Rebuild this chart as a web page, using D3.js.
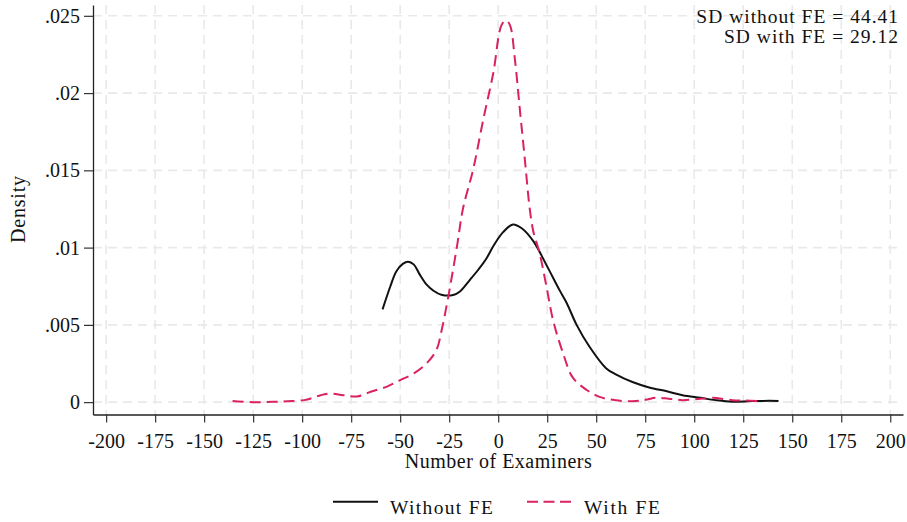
<!DOCTYPE html>
<html>
<head>
<meta charset="utf-8">
<script src="https://cdn.jsdelivr.net/npm/d3@7"></script>
<style>
  html, body { margin: 0; padding: 0; background: #fff; }
  svg { display: block; }
  text { font-family: "Liberation Serif", "Times New Roman", serif; fill: #111; }
</style>
</head>
<body>
<svg id="chart" width="907" height="522"></svg>
<script>
// Kernel density of examiner counts, without and with fixed effects
const withoutX = [-59, -55, -52, -48.5, -46, -43, -40, -36.5, -33, -29, -23, -19.5, -14.5, -10, -6, -2, 2.5, 7.5, 12, 18, 24.5, 31.5, 35, 40, 46.5, 55, 60, 68.5, 77, 86, 94, 103, 111, 119.5, 128, 135, 143];
const withoutY = [0.0060, 0.0075, 0.00846, 0.00896, 0.00909, 0.0089, 0.00825, 0.0076, 0.00721, 0.00695, 0.00693, 0.00716, 0.0079, 0.0086, 0.0093, 0.0102, 0.0110, 0.0115, 0.01125, 0.0104, 0.0089, 0.0072, 0.0064, 0.0050, 0.0036, 0.0022, 0.0018, 0.0013, 0.00095, 0.0007, 0.00045, 0.00028, 0.00013, 0.00003, 0.00006, 0.00008, 0.00008];

const withX = [-135.5, -125, -115, -107.5, -99, -94, -90.5, -85.5, -79, -72, -65, -57, -50, -43, -36.5, -31.5, -28.8, -25.5, -21, -18, -12.7, -7.6, -2.5, 1.7, 4, 6, 8.5, 11, 13.6, 16.1, 18, 21, 24.6, 28, 33, 38, 45, 51.7, 60, 68.6, 75, 80.5, 87, 94, 102, 109.3, 119.5, 126, 132.5];
const withY = [0.00008, 0.00000, 0.00002, 0.00006, 0.00013, 0.0003, 0.00045, 0.00056, 0.00045, 0.00037, 0.00067, 0.00099, 0.00143, 0.00186, 0.00251, 0.00338, 0.00468, 0.0068, 0.0101, 0.0125, 0.0151, 0.0183, 0.0213, 0.0244, 0.0247, 0.0244, 0.0222, 0.0190, 0.0157, 0.0125, 0.0110, 0.0097, 0.0075, 0.0053, 0.0032, 0.0016, 0.0008, 0.00034, 0.00012, 0.00006, 0.00015, 0.00028, 0.00022, 0.00013, 0.0002, 0.00028, 0.00013, 0.0001, 0.00008];

const xTicks = [-200, -175, -150, -125, -100, -75, -50, -25, 0, 25, 50, 75, 100, 125, 150, 175, 200];
const yTicks = [0, 0.005, 0.01, 0.015, 0.02, 0.025];
const yTickLabels = ["0", ".005", ".01", ".015", ".02", ".025"];

const seriesNames = ["Without FE", "With FE"];
const annotations = ["SD without FE = 44.41", "SD with FE = 29.12"];

const svg = d3.select("#chart");
const pink = "#d9225f";

const x = d3.scaleLinear().domain([-206.7, 206.5]).range([93, 903]);
const y = d3.scaleLinear().domain([-0.0008, 0.0257]).range([414.5, 5]);

// grid
const grid = svg.append("g").attr("stroke", "#e9e9e9").attr("stroke-width", 1.6)
  .attr("stroke-dasharray", "9,6");
grid.selectAll("line.v").data(xTicks).join("line").attr("class", "v")
  .attr("x1", d => x(d)).attr("x2", d => x(d)).attr("y1", y.range()[1]).attr("y2", y.range()[0]);
grid.selectAll("line.h").data(yTicks).join("line").attr("class", "h")
  .attr("y1", d => y(d)).attr("y2", d => y(d)).attr("x1", x.range()[0]).attr("x2", x.range()[1]);

// axes
const xAxis = d3.axisBottom(x).tickValues(xTicks).tickSize(8).tickSizeOuter(0).tickPadding(6)
  .tickFormat(d3.format("d"));
const gx = svg.append("g").attr("transform", `translate(0,${y.range()[0]})`).call(xAxis);
gx.select(".domain").attr("stroke", "#222").attr("stroke-width", 1.3);
gx.selectAll(".tick line").attr("stroke", "#333").attr("stroke-width", 1.2);
gx.selectAll(".tick text").attr("font-size", 20).attr("font-family", "Liberation Serif")
  .attr("fill", "#111").attr("dy", null).attr("y", 33)
  .text(d => d < 0 ? "-" + Math.abs(d) : String(d));

const yAxis = d3.axisLeft(y).tickValues(yTicks).tickSize(9).tickSizeOuter(0).tickPadding(4)
  .tickFormat((d, i) => yTickLabels[i]);
const gy = svg.append("g").attr("transform", `translate(${x.range()[0]},0)`).call(yAxis);
gy.select(".domain").attr("stroke", "#222").attr("stroke-width", 1.3);
gy.selectAll(".tick line").attr("stroke", "#333").attr("stroke-width", 1.2);
gy.selectAll(".tick text").attr("font-size", 20).attr("font-family", "Liberation Serif")
  .attr("fill", "#111").attr("x", -13);

// density curves
const line = d3.line().x(d => x(d[0])).y(d => y(d[1])).curve(d3.curveCatmullRom.alpha(0.5));
svg.append("path").datum(d3.zip(withoutX, withoutY)).attr("d", line)
  .attr("fill", "none").attr("stroke", "#111").attr("stroke-width", 2);
svg.append("path").datum(d3.zip(withX, withY)).attr("d", line)
  .attr("fill", "none").attr("stroke", pink).attr("stroke-width", 2)
  .attr("stroke-dasharray", "11,6");

// axis titles
svg.append("text").attr("x", 498.3).attr("y", 468).attr("text-anchor", "middle")
  .attr("font-size", 20).attr("textLength", 187).attr("lengthAdjust", "spacing")
  .text("Number of Examiners");
svg.append("text").attr("transform", "translate(25,209.5) rotate(-90)").attr("text-anchor", "middle")
  .attr("font-size", 20).attr("textLength", 67).attr("lengthAdjust", "spacing").text("Density");

// SD annotation
const noteLen = [201.7, 174];
svg.selectAll("text.note").data(annotations).join("text").attr("class", "note")
  .attr("x", 898).attr("y", (d, i) => 23 + i * 19.5).attr("text-anchor", "end")
  .attr("font-size", 19.5).attr("textLength", (d, i) => noteLen[i]).attr("lengthAdjust", "spacing")
  .text(d => d);

// legend
const legend = svg.append("g");
const lx = [333, 527];
const labelLen = [103, 76];
const styles = [{ c: "#111", dash: null }, { c: pink, dash: "11,5.5" }];
seriesNames.forEach((name, i) => {
  legend.append("line").attr("x1", lx[i]).attr("x2", lx[i] + 45).attr("y1", 501.7).attr("y2", 501.7)
    .attr("stroke", styles[i].c).attr("stroke-width", 2).attr("stroke-dasharray", styles[i].dash);
  legend.append("text").attr("x", lx[i] + 57).attr("y", 513.5).attr("font-size", 19.5)
    .attr("textLength", labelLen[i]).attr("lengthAdjust", "spacing").text(name);
});
</script>
</body>
</html>
